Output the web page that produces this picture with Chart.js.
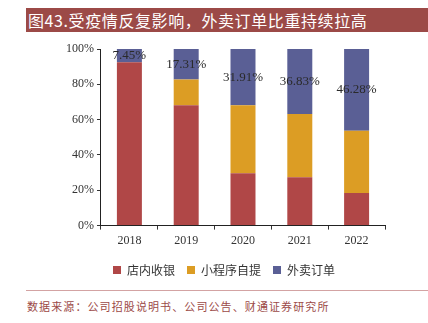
<!DOCTYPE html>
<html>
<head>
<meta charset="utf-8">
<script src="https://cdn.jsdelivr.net/npm/chart.js@4/dist/chart.umd.min.js"></script>
<style>
  body { margin: 0; background: #fff; width: 428px; height: 323px; position: relative; overflow: hidden; }
  #title { position: absolute; left: 26px; top: 8px; width: 402px; height: 24px; background: #9c4a47;
    color: #fff; font: 16px "Noto Sans CJK SC", sans-serif; line-height: 24px; padding-left: 2px; box-sizing: border-box; letter-spacing: 0.6px; }
  #wrap { position: absolute; left: 0; top: 0; width: 428px; height: 286px; }
  #rule { position: absolute; left: 26px; top: 290px; width: 402px; height: 1px; background: #d3a3a3; }
  #source { position: absolute; left: 27px; top: 298px; color: #9c4a47; font: 11px "Noto Sans CJK SC", sans-serif; letter-spacing: 1.1px; }
</style>
</head>
<body>
<div id="wrap"><canvas id="myChart"></canvas></div>
<div id="title">图43.受疫情反复影响，外卖订单比重持续拉高</div>
<div id="rule"></div>
<div id="source">数据来源：公司招股说明书、公司公告、财通证券研究所</div>
<script>
var years = ["2018", "2019", "2020", "2021", "2022"];
var inStore = [92.55, 68.2, 29.7, 27.4, 18.4];
var miniApp = [0, 14.49, 38.39, 35.77, 35.32];
var delivery = [7.45, 17.31, 31.91, 36.83, 46.28];
var yTicks = ["0%", "20%", "40%", "60%", "80%", "100%"];

var serif = "'Liberation Serif', 'DejaVu Serif', serif";

// labels in the middle of the delivery segment
var deliveryLabels = {
    id: 'deliveryLabels',
    afterDatasetsDraw: function(chart) {
        var ctx = chart.ctx;
        var meta = chart.getDatasetMeta(2);
        ctx.save();
        ctx.font = "13px " + serif;
        ctx.fillStyle = "#2a2a2a";
        ctx.textAlign = "center";
        ctx.textBaseline = "middle";
        meta.data.forEach(function(bar, i) {
            var mid = (bar.y + bar.base) / 2;
            ctx.fillText(delivery[i].toFixed(2) + "%", bar.x, mid);
        });
        ctx.restore();
    }
};

var ctx = document.getElementById("myChart").getContext('2d');
var myChart = new Chart(ctx, {
    type: 'bar',
    data: {
        labels: years,
        datasets: [{
            label: '店内收银',
            data: inStore,
            backgroundColor: '#b04747'
        }, {
            label: '小程序自提',
            data: miniApp,
            backgroundColor: '#dc9d24'
        }, {
            label: '外卖订单',
            data: delivery,
            backgroundColor: '#5a5f95'
        }]
    },
    options: {
        responsive: true,
        maintainAspectRatio: false,
        animation: false,
        layout: { padding: { top: 49, right: 43, left: 63, bottom: 0 } },
        datasets: { bar: { barPercentage: 0.44, categoryPercentage: 1 } },
        scales: {
            x: {
                stacked: true,
                offset: true,
                grid: { display: true, offset: true, drawOnChartArea: false, tickLength: 4, color: '#333' },
                border: { color: '#222', width: 1 },
                ticks: { color: '#333', font: { family: serif, size: 12 }, padding: 4 }
            },
            y: {
                stacked: true,
                min: 0,
                max: 100,
                grid: { drawOnChartArea: false, tickLength: 4, color: '#333' },
                border: { color: '#222', width: 1 },
                ticks: {
                    stepSize: 20,
                    color: '#333',
                    font: { family: serif, size: 12 },
                    callback: function(v) { return yTicks[v / 20]; }
                }
            }
        },
        plugins: {
            legend: {
                position: 'bottom',
                labels: {
                    boxWidth: 8,
                    boxHeight: 8,
                    padding: 12,
                    color: '#333',
                    font: { family: "'Noto Sans CJK SC'", size: 12 }
                }
            },
            tooltip: { enabled: false }
        }
    },
    plugins: [deliveryLabels]
});
</script>
</body>
</html>
